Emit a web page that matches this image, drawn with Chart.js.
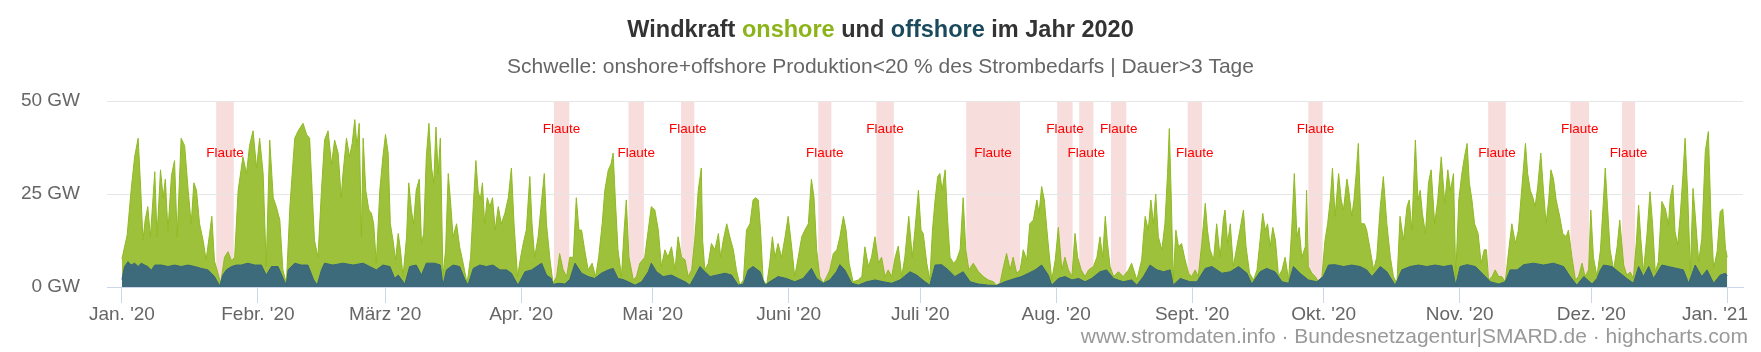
<!DOCTYPE html>
<html lang="de">
<head>
<meta charset="utf-8">
<title>Windkraft onshore und offshore im Jahr 2020</title>
<script src="https://cdn.jsdelivr.net/npm/chart.js@4.4.1/dist/chart.umd.min.js"></script>
<style>
  html, body { margin: 0; padding: 0; background: #ffffff; }
  canvas { display: block; }
</style>
</head>
<body>
<canvas id="chart_wind" width="1761" height="352"></canvas>
<script>
const schrift = '"Liberation Sans", Arial, Helvetica, sans-serif';

// [Tag seit 1.1.2020, GW] - Oberkante onshore (auf offshore gestapelt)
const onshorePlusOffshore = [
  [0.0,7.5],[1.2,14],[2.1,26],[2.9,35],[3.7,40],[4.3,26],[4.8,12.6],[5.3,18],[5.9,21.6],[6.5,13.5],
  [7.5,31],[8.0,13.5],[8.8,31.5],[9.4,24],[9.9,29],[10.5,15],[11.3,30],[12.0,34],[12.6,13.5],[13.5,40],
  [14.3,38],[15.1,26],[15.8,17],[16.4,28],[17.0,26],[17.7,17],[18.5,12.6],[19.2,7.3],[20.0,14.4],[20.5,19],
  [21.1,7],[21.9,3.7],[22.5,1],[23.4,8],[24.2,9.5],[25.0,7],[25.7,8],[26.5,26],[27.6,35],[28.4,30.5],
  [29.1,38],[29.9,42],[30.7,32],[31.4,40],[32.2,30.5],[32.9,5.5],[33.7,39.5],[34.5,24],[35.2,21.6],[36.0,18],
  [36.7,4.6],[37.5,1],[38.3,21.6],[39.4,40],[40.2,42],[41.3,44],[42.1,41],[42.8,40],
  [43.9,12.6],[44.7,8],[45.5,26],[46.2,39.5],[47.0,42],[47.8,33],[48.5,39.5],[49.3,36],[50.0,24],[50.4,30.5],
  [51.2,40],[51.9,35],[52.5,38.6],[53.1,45],[53.6,37.7],[54.1,44],[54.6,13.5],[55.0,40],[55.6,26],[56.3,20.7],
  [56.9,19.8],[57.4,17],[58.0,6.4],[58.8,26],[59.5,35],[60.1,41],[60.7,36],[61.2,17],[61.8,12.6],[62.4,7.3],
  [63.0,14.4],[63.5,10],[64.1,2.8],[64.9,13.5],[65.4,28],[66.0,20.7],[66.5,17],[67.1,26],[67.8,29],[68.3,11.7],
  [68.8,14.4],[69.4,35],[70.0,44],[70.6,32],[71.1,28],[71.6,43],[72.1,30.5],[72.6,40],[73.2,2.8],[73.8,10],
  [74.4,30.5],[74.9,23.4],[75.5,13.5],[76.3,17],[77.0,10.8],[77.8,6.4],[78.7,1],[79.5,8],[80.1,21.6],[80.7,34],
  [81.2,26],[81.7,23.4],[82.2,28],[82.7,17],[83.3,24],[83.9,21.6],[84.5,24],[85.1,15.3],[85.8,21.6],[86.5,17],
  [87.3,19.8],[88.1,24],[88.8,32],[89.4,17],[90.2,2.8],[90.9,8],[91.5,11.7],[92.2,15.3],[93.0,29.7],[93.5,17],
  [94.1,8],[94.9,13.5],[95.7,23.4],[96.3,30.5],[96.8,17],[97.6,7.3],[98.3,1],[99.1,2.8],[99.8,9],[100.6,4.6],
  [101.4,2.8],[102.1,8],[102.9,8],[103.6,24],[104.2,15.3],[104.8,15.3],[105.5,10],[106.3,4.6],[107.2,6.4],[108.0,2.8],
  [108.7,8],[109.5,17],[110.1,26],[110.9,31.5],[111.5,33],[112.0,36],[112.5,23.4],[113.1,10],[113.9,2.8],[114.5,15.3],
  [115.0,23.4],[115.6,8],[116.6,1.9],[117.3,2.8],[118.1,6.4],[119.2,8],[120.0,15.3],[120.7,21.6],[121.5,20.7],[122.3,15.3],
  [123.0,5.5],[123.8,10],[124.5,8],[125.3,10.8],[126.1,4.6],[126.8,13.5],[127.6,8],[128.4,7.3],[129.1,2.8],[129.9,4.6],
  [130.6,12.6],[131.4,26],[132.1,32],[132.4,12.6],[132.9,4.6],[133.7,6.4],[134.4,11.7],[135.2,10],[136.0,14.4],[136.5,8],
  [137.1,12.6],[137.9,17],[138.6,13.5],[139.4,10],[140.1,4.6],[140.9,0.5],[141.7,1.9],[142.4,15.3],[143.2,17],[143.9,23.4],
  [144.5,24],[145.1,23.4],[145.6,15.3],[146.2,1.9],[147.0,0.5],[147.7,6.4],[148.3,13.5],[148.9,8],[149.6,11.7],[150.4,8],
  [151.2,13.5],[151.9,19],[152.7,10.8],[153.4,2.8],[154.2,8],[155.0,13.5],[155.7,15.3],[156.5,17],[157.2,29],[157.8,24],
  [158.4,10],[159.1,2.8],[159.9,1],[160.7,2.8],[161.4,4.6],[162.2,9],[163.0,10],[163.7,13.5],[164.5,19],[165.1,15.3],
  [165.8,6.4],[166.7,1.4],[167.9,1.9],[168.7,2.8],[169.4,10.8],[170.2,5.5],[170.9,8],[171.7,13.5],[172.5,6.4],[173.2,8],
  [174.0,2.8],[174.7,4.6],[175.5,2.8],[176.3,8],[177.0,11],[177.8,2.8],[178.5,8],[179.4,19],[180.2,8],[180.8,15.3],
  [181.6,26],[182.2,15.3],[182.7,14.4],[183.5,6.4],[184.2,1.9],[184.8,15.3],[185.4,23.4],[186.0,29.7],[186.5,30.5],[187.0,26],
  [187.7,31.5],[188.2,19],[188.8,8],[189.6,6.4],[190.3,7.3],[191.1,10],[191.8,24],[192.4,10],[193.1,4.6],[194.1,6.4],
  [195.3,4.1],[196.4,2.8],[197.5,1.9],[198.7,1.4],[199.4,0.5],[200.2,1],[201.0,5.5],[201.7,9],[202.5,4.6],[203.2,8],
  [204.0,3.7],[204.8,4.6],[205.5,10],[206.3,7.3],[207.0,17],[207.8,18],[208.6,23.4],[209.1,19.8],[209.7,27],[210.3,23.4],
  [210.9,15.3],[211.4,9],[212.0,1.9],[212.8,7.3],[213.5,16],[214.3,4.6],[215.0,8],[215.8,4.6],[216.6,2.8],[217.3,14.4],
  [217.9,8],[218.7,4.6],[219.6,2.8],[220.4,4.6],[221.5,5.5],[222.3,8],[223.0,13.5],[223.6,8],[224.2,19],[224.7,11.7],
  [225.3,5.5],[226.1,2.8],[227.2,4.1],[228.3,2.8],[229.5,4.6],[230.2,6.4],[231.4,1.9],[232.5,7.3],[233.3,19],[234.0,15.3],
  [234.6,23.4],[235.2,17],[235.7,25],[236.3,13.5],[237.1,10],[237.8,17],[238.4,30.5],[238.8,42.6],[239.2,26],[239.7,1.9],
  [240.3,15.3],[240.9,10.8],[241.6,11.7],[242.4,7.3],[243.2,3.7],[243.9,2.8],[244.7,4.6],[245.4,2.8],[246.2,11.7],[247.0,22.5],
  [247.5,15.3],[248.1,10],[248.9,7.3],[249.6,17],[250.4,8],[251.1,18],[251.5,20.7],[252.1,11.7],[252.7,17],[253.4,5.5],
  [254.2,10.8],[254.9,15.3],[255.7,20.7],[256.3,10.8],[257.1,3.7],[258.0,1.9],[258.8,4.6],[259.5,12.6],[260.1,19.8],[260.7,15.3],
  [261.2,17],[261.8,10.8],[262.4,16],[263.0,12.6],[263.7,2.8],[264.5,4.6],[265.2,8],[266.0,1.9],[266.7,15.3],[267.3,30.5],
  [267.9,13.5],[268.4,16],[269.0,8],[269.8,10.8],[270.1,26],[270.5,5.5],[271.3,3.7],[272.1,2.8],[272.8,1.4],[273.6,2.8],
  [274.3,12.6],[274.9,17],[275.5,23.4],[276.0,32],[276.6,19],[277.4,30.5],[278.0,23.4],[278.5,20.7],[279.3,29],[279.7,26],
  [280.4,19],[280.9,23.4],[281.4,30.5],[281.9,38.6],[282.5,17],[283.3,17],[283.8,15.3],[284.6,10],[285.4,4.6],[286.1,8],
  [286.9,21.6],[287.6,29.7],[288.4,17],[289.2,8],[289.9,2.8],[290.7,1],[291.4,19],[292.2,12.6],[293.0,21.6],[293.5,23.4],
  [294.1,15.3],[294.9,39.5],[295.5,23.4],[296.0,26],[296.5,19.8],[297.2,14.4],[297.9,28],[298.5,31.5],[299.3,17],[300.0,23.4],
  [300.8,35],[301.6,22.5],[302.3,31.5],[302.9,26],[303.6,30.5],[304.1,2.8],[304.8,23.4],[305.5,30.5],[306.1,35],[306.7,38.6],
  [307.2,28],[307.8,23.4],[308.4,17],[309.2,14.4],[309.9,6.4],[310.6,10],[311.1,10],[311.6,1.9],[312.4,2.8],[313.1,4.6],
  [313.9,2.8],[314.6,2.8],[315.4,1.4],[316.2,10],[316.9,17],[317.7,11.7],[318.4,15.3],[319.2,27],[320.0,38.6],[320.5,30.5],
  [321.1,26],[321.7,24],[322.2,21.6],[322.8,27],[323.5,36],[324.1,26],[324.7,17],[325.3,23.4],[325.8,31.5],[326.4,29],
  [327.0,23.4],[327.8,19],[328.5,14.4],[329.3,13.5],[329.8,15.3],[330.6,8],[331.4,1.9],[332.1,2.8],[332.9,6.4],[333.6,2.8],
  [334.4,4.6],[334.9,20.7],[335.5,8],[336.3,2.8],[337.1,10],[337.7,21.6],[338.2,32],[338.7,21.6],[339.3,10],[340.1,4.6],
  [340.9,10.8],[341.5,18],[342.4,5.9],[343.1,3.2],[343.9,4],[344.6,2.3],[345.3,12.2],[345.8,22],[346.3,13],[346.9,4],
  [347.7,14],[348.4,25.6],[349.0,16.7],[349.6,4],[350.3,6.8],[351.1,23],[351.9,21],[352.6,16.7],[353.0,23.8],[353.6,27.4],
  [354.1,14.9],[354.7,11.3],[355.3,19.4],[355.9,30],[356.4,40],[357.0,24.7],[357.6,4],[358.2,26.5],[358.7,19.4],[359.5,6.8],
  [360.2,13],[361.0,36.4],[361.7,41.8],[362.3,18.5],[362.9,5],[363.7,9.5],[364.4,20.3],[365.0,21],[365.6,10.4],[366.0,8]
];

// [Tag seit 1.1.2020, GW] - offshore
const offshore = [
  [0.0,2],[0.6,5.5],[1.4,6.8],[2.1,5.9],[2.9,6.4],[3.7,5.5],[4.4,6.4],[5.2,5.9],[5.9,5.5],[6.7,4.5],
  [7.5,5.9],[9.0,5.9],[10.5,5.5],[12.0,5.9],[13.5,5.5],[15.1,5.9],[16.6,5.5],[18.1,5.0],[19.6,4.6],[20.4,3.7],
  [21.1,2.8],[22.3,0.3],[23.0,3.2],[23.8,4.6],[25.0,5.5],[26.1,5.9],[27.2,5.9],[28.7,6.4],[30.3,5.9],[31.8,5.9],
  [32.9,3.2],[34.1,5.5],[35.6,5.5],[37.1,1.4],[37.5,0.8],[37.9,4.6],[39.4,6.4],[40.9,5.9],[42.4,5.9],[43.7,2],
  [44.5,0.5],[45.5,4.6],[46.2,6.4],[48.1,5.9],[50.4,6.4],[52.7,5.9],[55.0,6.4],[56.5,5.5],[58.0,4.6],[59.5,5.9],
  [61.1,5.5],[62.2,2.3],[63.0,3.2],[64.5,0.8],[65.6,5.5],[67.1,5.9],[68.3,3.2],[69.4,6.4],[71.3,6.4],[72.6,5.9],
  [73.2,0.5],[74.0,4.6],[75.5,5.9],[77.0,5.5],[78.2,2],[78.9,0.5],[80.1,5.0],[81.6,5.9],[83.1,5.5],[84.6,5.9],
  [86.2,4.6],[87.7,4.6],[88.8,3.7],[90.3,0.5],[91.9,4.1],[93.4,4.6],[95.7,6.4],[96.8,3.2],[97.9,2.3],[98.3,0.7],
  [99.5,1],[101.0,0.8],[102.1,2],[103.3,6.4],[104.8,3.7],[106.3,2.8],[107.8,2.3],[109.3,3.7],[110.9,4.6],[112.0,5.0],
  [113.1,2.3],[114.3,2],[115.4,1.4],[117.0,0.5],[118.5,1.4],[120.0,4.1],[120.7,6.4],[121.9,4.1],[123.4,2.8],[125.3,3.2],
  [126.8,2.3],[128.4,1.4],[129.5,0.5],[130.6,2.8],[131.8,5.5],[132.5,4.6],[134.1,2.8],[135.6,3.2],[137.5,3.7],[139.0,3.2],
  [140.5,0.5],[141.7,0.8],[142.8,4.6],[143.9,5.5],[145.5,4.1],[146.6,0.5],[147.7,1.4],[149.6,2.8],[151.5,2.3],[153.4,1.4],
  [155.3,2.3],[157.2,5.0],[158.4,2.3],[159.9,1],[161.4,1.9],[162.9,4.1],[163.7,6.0],[164.8,4.6],[166.4,1],[167.9,0.5],
  [169.8,1.4],[171.7,1.9],[173.6,1.4],[175.5,1.0],[177.4,1.9],[179.7,4.1],[181.2,3.2],[183.1,1.4],[184.2,0.5],[185.4,5.9],
  [186.9,6.0],[188.4,4.6],[189.9,2.8],[191.8,4.1],[193.4,1.4],[195.3,0.8],[197.5,0.5],[199.4,0.4],[201.3,1.4],[203.6,2.3],
  [205.1,2.8],[206.7,3.7],[208.2,4.6],[209.7,5.9],[211.2,3.2],[212.0,0.5],[213.5,2.3],[215.0,2.8],[216.6,1.9],[218.1,2.3],
  [219.6,1.4],[221.1,2.3],[223.0,4.1],[224.5,4.6],[226.1,2.3],[228.3,1.4],[230.2,1.9],[231.4,0.5],[232.9,2.8],[234.4,5.9],
  [236.0,4.6],[237.5,4.1],[239.0,4.6],[239.7,0.5],[241.3,2.3],[243.5,1.4],[245.1,1.4],[247.0,5.0],[248.5,5.5],[250.8,3.7],
  [252.7,4.1],[254.6,5.5],[256.5,3.7],[257.6,0.8],[259.5,4.1],[261.0,5.0],[262.9,4.1],[264.5,1.4],[266.0,1.0],[267.1,5.5],
  [268.6,3.7],[270.5,1.9],[272.4,1.4],[273.9,2.8],[275.1,5.9],[276.6,6.0],[278.5,5.5],[280.4,5.9],[282.3,5.5],[283.8,4.6],
  [285.0,2.8],[286.9,5.5],[288.4,4.1],[290.3,0.5],[291.8,4.6],[293.7,5.5],[295.6,5.9],[297.5,5.5],[299.4,5.9],[301.3,5.5],
  [303.2,5.9],[304.1,0.5],[305.1,5.5],[306.7,6.0],[308.6,5.5],[310.5,3.2],[312.0,1.4],[313.9,0.8],[315.4,1.4],[316.5,4.6],
  [318.1,4.6],[319.6,6.0],[321.9,6.4],[324.1,5.9],[326.4,6.4],[328.7,5.5],[330.2,2.8],[331.7,0.5],[333.3,2.8],[335.2,0.8],
  [336.3,2.3],[337.1,4.6],[337.8,5.9],[339.7,5.5],[341.2,4.1],[343.1,2.3],[344.6,1],[345.8,5.5],[346.9,2.8],[348.1,5.5],
  [349.2,2.3],[351.1,5.9],[352.6,5.5],[354.5,5.0],[356.0,4.6],[357.2,1],[358.7,5.9],[360.2,2.8],[361.4,4.6],[362.9,1],
  [364.4,3.2],[365.6,3.7],[366.0,3]
];

const monatsAnfang = [0, 31, 60, 91, 121, 152, 182, 213, 244, 274, 305, 335, 366];
const monatsNamen = ["Jan. '20", "Febr. '20", "März '20", "Apr. '20", "Mai '20", "Juni '20", "Juli '20",
  "Aug. '20", "Sept. '20", "Okt. '20", "Nov. '20", "Dez. '20", "Jan. '21"];
const gwTicks = [0, 25, 50];

// Flaute-Zeiträume (Tag von / bis)
const flauteVon = [21.5, 98.5, 115.5, 127.5, 158.75, 172, 192.5, 213.25, 218.25, 225.5, 243, 270.5, 311.5, 330.25, 342];
const flauteBis = [25.5, 102, 119, 130.5, 161.75, 176, 204.75, 216.75, 221.5, 229, 246.25, 273.75, 315.5, 334.5, 345];

const titelTeile = [["Windkraft ", "#333333"], ["onshore", "#8cb418"], [" und ", "#333333"], ["offshore", "#1b4a5d"], [" im Jahr 2020", "#333333"]];
const untertitel = "Schwelle: onshore+offshore Produktion<20 % des Strombedarfs | Dauer>3 Tage";
const quelle = "www.stromdaten.info · Bundesnetzagentur|SMARD.de · highcharts.com";

const achsenSchrift = { size: 19, family: schrift };
const letzterMonat = monatsNamen.length - 1;

const flautePlugin = {
  id: "flaute",
  beforeDraw(chart) {
    const { ctx, chartArea, scales } = chart;
    ctx.save();
    ctx.fillStyle = "#f8dddd";
    flauteVon.forEach((von, i) => {
      const x1 = scales.x.getPixelForValue(von);
      const x2 = scales.x.getPixelForValue(flauteBis[i]);
      ctx.fillRect(x1, chartArea.top, x2 - x1, chartArea.bottom - chartArea.top);
    });
    ctx.restore();
  },
  afterDatasetsDraw(chart) {
    const { ctx, chartArea, scales } = chart;
    ctx.save();
    ctx.font = "13.5px " + schrift;
    ctx.fillStyle = "#ff0000";
    ctx.textAlign = "center";
    ctx.textBaseline = "middle";
    flauteVon.forEach((von, i) => {
      const mitte = (scales.x.getPixelForValue(von) + scales.x.getPixelForValue(flauteBis[i])) / 2;
      const y = chartArea.top + (i % 2 === 0 ? 52 : 28);
      ctx.fillText("Flaute", mitte, y);
    });
    ctx.restore();
  },
};

const textPlugin = {
  id: "texte",
  afterDraw(chart) {
    const ctx = chart.ctx;
    ctx.save();
    ctx.textBaseline = "middle";
    ctx.font = "bold 23.5px " + schrift;
    const breite = titelTeile.reduce((s, [t]) => s + ctx.measureText(t).width, 0);
    let x = chart.width / 2 - breite / 2;
    ctx.textAlign = "left";
    titelTeile.forEach(([t, farbe]) => {
      ctx.fillStyle = farbe;
      ctx.fillText(t, x, 31);
      x += ctx.measureText(t).width;
    });
    ctx.font = "21px " + schrift;
    ctx.fillStyle = "#666666";
    ctx.textAlign = "center";
    ctx.fillText(untertitel, chart.width / 2, 67);

    // letzte Monatsbeschriftung wie bei Highcharts in den Rand eingerückt
    const xs = chart.scales.x;
    ctx.font = achsenSchrift.size + "px " + schrift;
    const w = ctx.measureText(monatsNamen[letzterMonat]).width;
    const px = Math.min(xs.getPixelForValue(monatsAnfang[letzterMonat]), chart.width - 13 - w / 2);
    ctx.fillText(monatsNamen[letzterMonat], px, xs.top + 16 + achsenSchrift.size * 0.6);

    ctx.font = "21px " + schrift;
    ctx.fillStyle = "#999999";
    ctx.textAlign = "right";
    ctx.fillText(quelle, chart.width - 13, 337);
    ctx.restore();
  },
};

new Chart(document.getElementById("chart_wind"), {
  type: "line",
  data: {
    datasets: [
      {
        label: "Windkraft offshore",
        data: offshore.map(([x, y]) => ({ x, y })),
        fill: "origin",
        backgroundColor: "#3e6b7c",
        borderColor: "#376677",
        borderWidth: 1,
        pointRadius: 0,
        order: 0,
      },
      {
        label: "Windkraft onshore",
        data: onshorePlusOffshore.map(([x, y]) => ({ x, y })),
        fill: "origin",
        backgroundColor: "#9dc13b",
        borderColor: "#8fba22",
        borderWidth: 1,
        pointRadius: 0,
        order: 1,
      },
    ],
  },
  options: {
    responsive: false,
    devicePixelRatio: 1,
    animation: false,
    layout: { padding: { top: 101, right: 18, left: 0, bottom: 0 } },
    plugins: {
      legend: { display: false },
      tooltip: { enabled: false },
    },
    scales: {
      x: {
        type: "linear",
        min: -3.4,
        max: 369.6,
        afterBuildTicks: (s) => { s.ticks = monatsAnfang.map((v) => ({ value: v })); },
        afterFit: (s) => { s.height = 65; s.paddingLeft = 0; s.paddingRight = 0; },
        ticks: {
          autoSkip: false,
          maxRotation: 0,
          padding: 0,
          color: (c) => (c.index === letzterMonat ? "rgba(0,0,0,0)" : "#666666"),
          font: achsenSchrift,
          callback: (v, i) => monatsNamen[i],
        },
        grid: { drawOnChartArea: false, drawTicks: true, tickLength: 16, color: "#ccd6eb" },
        border: { display: true, color: "#ccd6eb" },
      },
      y: {
        min: 0,
        max: 50,
        afterBuildTicks: (s) => { s.ticks = gwTicks.map((v) => ({ value: v })); },
        afterFit: (s) => { s.width = 107; },
        ticks: {
          padding: 27,
          color: "#666666",
          font: achsenSchrift,
          callback: (v) => v + " GW",
        },
        grid: {
          drawTicks: false,
          color: (c) => (c.tick && c.tick.value === 0 ? "rgba(0,0,0,0)" : "#e6e6e6"),
        },
        border: { display: false },
      },
    },
  },
  plugins: [flautePlugin, textPlugin],
});
</script>
</body>
</html>
